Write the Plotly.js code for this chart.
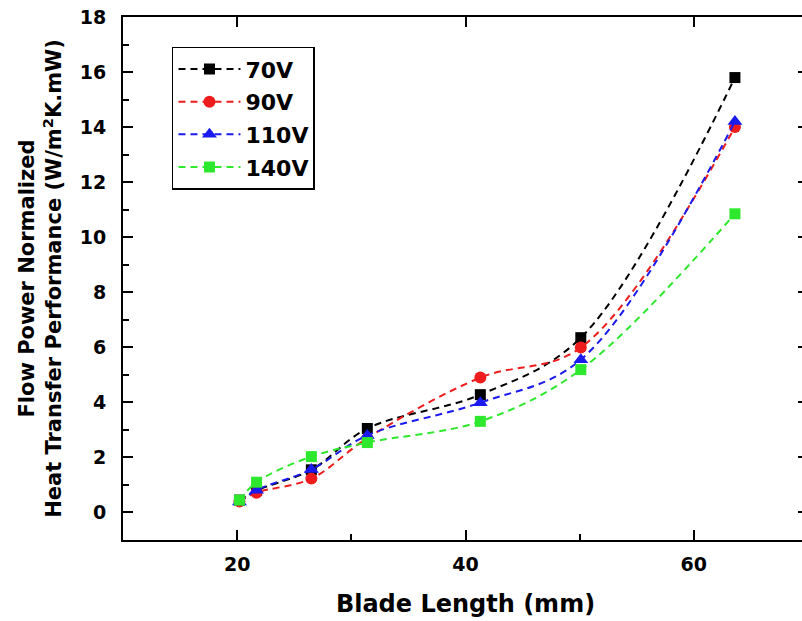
<!DOCTYPE html>
<html>
<head>
<meta charset="utf-8">
<script src="https://cdn.plot.ly/plotly-3.0.1.min.js"></script>
<style>
  html, body { margin: 0; padding: 0; background: #fff; overflow: hidden; width: 802px; height: 621px; }
  #chart { width: 812px; height: 621px; }
</style>
</head>
<body>
<div id="chart"></div>
<script>
// ---- data ----
const bladeLength = [20.2, 21.7, 26.5, 31.4, 41.3, 50.1, 63.6];
const v70  = [0.45, 0.80, 1.55, 3.05, 4.28, 6.35, 15.8];
const v90  = [0.40, 0.72, 1.23, 2.70, 4.90, 5.99, 14.0];
const v110 = [0.38, 0.81, 1.56, 2.80, 3.99, 5.55, 14.2];
const v140 = [0.45, 1.10, 2.03, 2.54, 3.31, 5.19, 10.85];
const seriesNames = ['70V', '90V', '110V', '140V'];
const xTickVals = [20, 40, 60];
const yTickVals = [0, 2, 4, 6, 8, 10, 12, 14, 16, 18];

const seriesValues = [v70, v90, v110, v140];
const colors = ['#000000', '#ee1c1c', '#1a1aee', '#2ee82e'];
const symbols = ['square', 'circle', 'triangle-up', 'square'];
const sizes = [11, 12, 13, 11];

const traces = seriesValues.map((vals, i) => ({
  type: 'scatter',
  mode: 'lines+markers',
  name: seriesNames[i],
  x: bladeLength,
  y: vals,
  line: { color: colors[i], width: 2, dash: '7px,5px', shape: 'spline', smoothing: 1 },
  marker: { color: colors[i], symbol: symbols[i], size: sizes[i] },
  legendgroup: 'g' + i
}));
traces.push({ type: 'scatter', x: [], y: [], xaxis: 'x2', yaxis: 'y2', showlegend: false, hoverinfo: 'skip' });

const fontFam = 'DejaVu Sans, Verdana, sans-serif';
const boldText = v => '<b>' + v + '</b>';

const layout = {
  width: 812, height: 621,
  margin: { l: 123, r: 4, t: 17, b: 81 },
  font: { family: fontFam, size: 19, color: '#000' },
  paper_bgcolor: '#fff', plot_bgcolor: '#fff',
  showlegend: true,
  xaxis: {
    range: [10, 70], tickmode: 'array', tickvals: xTickVals, ticktext: xTickVals.map(boldText),
    showline: true, linecolor: '#000', linewidth: 2, mirror: true,
    ticks: 'inside', ticklen: 10, tickwidth: 2, tickcolor: '#000',
    showgrid: false, zeroline: false, ticklabelstandoff: 6,
    tickfont: { family: fontFam, size: 19, color: '#000' },
    minor: { dtick: 10, tick0: 0, ticks: 'inside', ticklen: 6, tickwidth: 2, tickcolor: '#000' },
    title: { text: '<b>Blade Length (mm)</b>', standoff: 21, font: { family: fontFam, size: 24, color: '#000' } }
  },
  yaxis: {
    range: [-1, 18], tickmode: 'array', tickvals: yTickVals, ticktext: yTickVals.map(boldText),
    showline: true, linecolor: '#000', linewidth: 2, mirror: true,
    ticks: 'inside', ticklen: 10, tickwidth: 2, tickcolor: '#000',
    showgrid: false, zeroline: false, ticklabelstandoff: 11,
    tickfont: { family: fontFam, size: 19, color: '#000' },
    minor: { dtick: 1, tick0: 0, ticks: 'inside', ticklen: 6, tickwidth: 2, tickcolor: '#000' },
    title: { text: '<b>Flow Power Normalized<br>Heat Transfer Performance (W/m<sup>2</sup>K.mW)</b>', standoff: 12,
             font: { family: fontFam, size: 21, color: '#000' } }
  },
  xaxis2: {
    overlaying: 'x', side: 'top', range: [10, 70], tickmode: 'array', tickvals: xTickVals,
    ticks: 'inside', ticklen: 10, tickwidth: 2, tickcolor: '#000',
    showticklabels: false, showline: false, showgrid: false, zeroline: false
  },
  yaxis2: {
    overlaying: 'y', side: 'right', range: [-1, 18], tickmode: 'array', tickvals: yTickVals,
    ticks: 'inside', ticklen: 10, tickwidth: 2, tickcolor: '#000',
    showticklabels: false, showline: false, showgrid: false, zeroline: false
  },
  legend: {
    x: 0.0715, y: 0.943, xanchor: 'left', yanchor: 'top',
    bgcolor: '#fff', bordercolor: '#000', borderwidth: 1.5,
    font: { family: fontFam, size: 22, color: '#000', weight: 700 },
    itemwidth: 62,
    traceorder: 'grouped', tracegroupgap: 1
  }
};

Plotly.newPlot('chart', traces, layout, { staticPlot: true, displayModeBar: false });
</script>
</body>
</html>
